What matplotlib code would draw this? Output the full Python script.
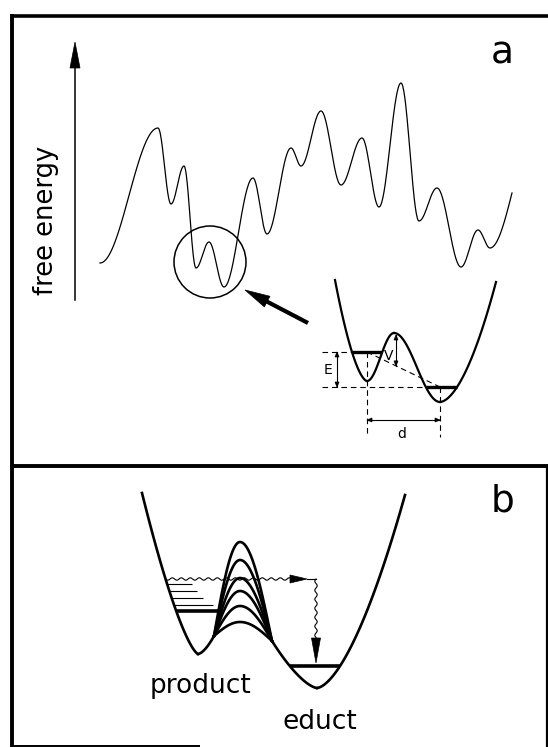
import numpy as np
import matplotlib.pyplot as plt
from matplotlib.patches import Circle, Polygon

# all positions are in picture pixels (x to the right, y downwards)

# panel a: rough free energy landscape, turning points
land_x = [100, 158, 171, 184, 196, 209, 224, 253, 267, 291, 301, 321, 341, 362, 379, 401, 419, 437, 461, 478, 490, 512]
land_y = [263, 128, 204, 166, 268, 242, 287, 178, 234, 148, 166, 111, 185, 138, 207, 83, 221, 188, 267, 230, 248, 193]

# zoomed double well: wall top, minimum, barrier top, minimum, wall top
well_x = [335, 367, 394, 440, 496]
well_y = [280, 381, 333, 402, 282]
well_levels = [352, 387]

# panel b: left wall top, left minimum, right minimum, right wall top
b_x = [142, 198, 317, 405]
b_y = [493, 654, 688, 495]
barrier_x = 240
barrier_y = [542, 560, 578, 591, 606, 622]
join_left = (214, 636)
join_right = (272, 641)
left_levels = [584, 591, 598, 605, 611]
left_level_end = [192, 197, 203, 213, 219]
right_level = 666
wave_y = 579
wave_x_end = 316
wave_y_end = 663

labels_b = ['product', 'educt']


def cos_seg(x0, y0, x1, y1, n=40):
    t = np.linspace(0, 1, n)
    return x0 + (x1 - x0) * t, y0 + (y1 - y0) * (1 - np.cos(np.pi * t)) / 2


def wall(xm, ym, xt, yt, p, n=50):
    t = np.linspace(0, 1, n)
    return xm + (xt - xm) * t, ym + (yt - ym) * t ** p


def cross(xs, ys, y):
    o = np.argsort(ys)
    return np.interp(y, np.asarray(ys)[o], np.asarray(xs)[o])


def head(ax, tip, back, length, hw):
    tip = np.array(tip, float)
    d = tip - np.array(back, float)
    d /= np.hypot(*d)
    n = np.array([-d[1], d[0]])
    base = tip - d * length
    ax.add_patch(Polygon([tip, base + n * hw, base - n * hw], closed=True,
                         fc='black', ec='black', lw=0.5))


def dbl_arrow(ax, p0, p1, length=5, hw=2):
    ax.plot([p0[0], p1[0]], [p0[1], p1[1]], color='black', lw=0.8)
    head(ax, p0, p1, length, hw)
    head(ax, p1, p0, length, hw)


def wavy(x0, y0, x1, y1, amp=1.2, period=9):
    L = np.hypot(x1 - x0, y1 - y0)
    s = np.linspace(0, L, int(L * 3) + 2)
    d = np.array([x1 - x0, y1 - y0]) / L
    n = np.array([-d[1], d[0]])
    w = amp * np.sin(2 * np.pi * s / period)
    return x0 + d[0] * s + n[0] * w, y0 + d[1] * s + n[1] * w


fig = plt.figure(figsize=(5.48, 7.47), dpi=100)
ax = fig.add_axes([0, 0, 1, 1])
ax.set_xlim(0, 548)
ax.set_ylim(747, 0)
ax.axis('off')
k = 'black'

# frame
ax.plot([12, 548], [16, 16], color=k, lw=2.6, solid_capstyle='butt')
ax.plot([12, 12], [14, 747], color=k, lw=2.8, solid_capstyle='butt')
ax.plot([12, 548], [466, 466], color=k, lw=2.8, solid_capstyle='butt')
ax.plot([547, 547], [466, 747], color=k, lw=1.6, solid_capstyle='butt')
ax.plot([12, 200], [745.5, 745.5], color=k, lw=1.4, solid_capstyle='butt')

# ---- panel a ----
ax.plot([75, 75], [300, 62], color=k, lw=1.1)
head(ax, (75, 42), (75, 80), 26, 5)
ax.text(46, 220, 'free energy', rotation=90, ha='center', va='center',
        fontsize=18.5, color=k)
ax.text(502, 54, 'a', ha='center', va='center', fontsize=27, color=k)

xs, ys = [], []
for i in range(len(land_x) - 1):
    if i < len(land_x) - 2:
        sx, sy = cos_seg(land_x[i], land_y[i], land_x[i + 1], land_y[i + 1])
    else:
        t = np.linspace(0, 1, 40)
        sx = land_x[i] + (land_x[i + 1] - land_x[i]) * t
        sy = land_y[i] + (land_y[i + 1] - land_y[i]) * (1 - np.cos(np.pi / 2 * t))
    xs.extend(sx)
    ys.extend(sy)
ax.plot(xs, ys, color=k, lw=0.9)

ax.add_patch(Circle((210, 262), 36, fill=False, ec=k, lw=1.1))
ax.plot([308, 262], [323, 299], color=k, lw=3.0, solid_capstyle='butt')
head(ax, (245, 290), (308, 323), 25, 6)

# double well
lwx, lwy = wall(well_x[1], well_y[1], well_x[0], well_y[0], 1.65)
ax.plot(lwx, lwy, color=k, lw=1.6)
bl_x, bl_y = cos_seg(well_x[1], well_y[1], well_x[2], well_y[2])
br_x, br_y = cos_seg(well_x[2], well_y[2], well_x[3], well_y[3])
ax.plot(bl_x, bl_y, color=k, lw=1.6)
ax.plot(br_x, br_y, color=k, lw=1.6)
rwx, rwy = wall(well_x[3], well_y[3], well_x[4], well_y[4], 1.75)
ax.plot(rwx, rwy, color=k, lw=1.6)

e0, e1 = well_levels
ax.plot([cross(lwx, lwy, e0), cross(bl_x, bl_y, e0)], [e0, e0], color=k, lw=2.4,
        solid_capstyle='butt')
ax.plot([cross(br_x, br_y, e1), cross(rwx, rwy, e1)], [e1, e1], color=k, lw=2.4,
        solid_capstyle='butt')

dash = dict(color=k, lw=0.8, dashes=(5, 3.5))
ax.plot([322, cross(lwx, lwy, e0)], [e0, e0], **dash)
ax.plot([322, cross(br_x, br_y, e1)], [e1, e1], **dash)
ax.plot([well_x[1], well_x[1]], [e0, 437], **dash)
ax.plot([well_x[3], well_x[3]], [e1, 437], **dash)
ax.plot([well_x[1], well_x[3]], [e0, e1], **dash)

dbl_arrow(ax, (337, e0), (337, e1))
ax.text(328, 370, 'E', ha='center', va='center', fontsize=10, color=k)
v_low = e0 + (e1 - e0) * (396 - well_x[1]) / (well_x[3] - well_x[1])
dbl_arrow(ax, (396, well_y[2] + 2), (396, v_low))
ax.text(389, 356, 'V', ha='center', va='center', fontsize=10, color=k)
dbl_arrow(ax, (well_x[1], 420), (well_x[3], 420))
ax.text(402, 434, 'd', ha='center', va='center', fontsize=10, color=k)

# ---- panel b ----
ax.text(503, 501, 'b', ha='center', va='center', fontsize=27, color=k)

lw_b = 1.9
lx, ly = wall(b_x[1], b_y[1], b_x[0], b_y[0], 1.4)
ax.plot(lx, ly, color=k, lw=lw_b)
mx, my = wall(b_x[1], b_y[1], join_left[0], join_left[1], 1.6)
ax.plot(mx, my, color=k, lw=lw_b)
rx, ry = wall(b_x[2], b_y[2], b_x[3], b_y[3], 1.62)
ax.plot(rx, ry, color=k, lw=lw_b)
qx, qy = wall(b_x[2], b_y[2], join_right[0], join_right[1], 1.51)
ax.plot(qx, qy, color=k, lw=lw_b)

t = np.linspace(0, 1, 50)
for yp in barrier_y:
    ux = join_left[0] + (barrier_x - join_left[0]) * t
    uy = join_left[1] - (join_left[1] - yp) * np.sin(np.pi / 2 * t)
    dx = barrier_x + (join_right[0] - barrier_x) * t
    dy = yp + (join_right[1] - yp) * (1 - np.cos(np.pi / 2 * t))
    ax.plot(np.r_[ux, dx], np.r_[uy, dy], color=k, lw=lw_b)

for yl, xe in zip(left_levels, left_level_end):
    thick = yl == left_levels[-1]
    ax.plot([cross(lx, ly, yl), xe], [yl, yl], color=k, lw=2.6 if thick else 0.8,
            solid_capstyle='butt')

ax.plot([cross(qx, qy, right_level), cross(rx, ry, right_level)],
        [right_level, right_level], color=k, lw=2.6, solid_capstyle='butt')

wx, wy = wavy(cross(lx, ly, wave_y), wave_y, 294, wave_y)
ax.plot(wx, wy, color=k, lw=0.8)
head(ax, (307, wave_y), (290, wave_y), 17, 4)
ax.plot([307, wave_x_end], [wave_y, wave_y], color=k, lw=0.8)
wx, wy = wavy(wave_x_end, wave_y, wave_x_end, 645)
ax.plot(wx, wy, color=k, lw=0.8)
head(ax, (wave_x_end, wave_y_end), (wave_x_end, 630), 25, 4.5)

ax.text(201, 686, labels_b[0], ha='center', va='center', fontsize=19, color=k)
ax.text(320, 722, labels_b[1], ha='center', va='center', fontsize=19, color=k)

fig.savefig('out.png', dpi=100)
